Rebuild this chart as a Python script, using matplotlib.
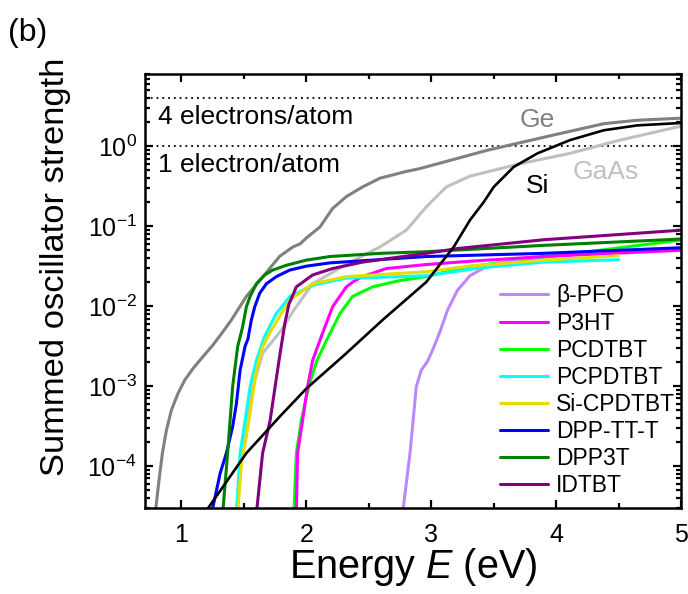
import numpy as np
import matplotlib
matplotlib.use("Agg")
import matplotlib.pyplot as plt
from matplotlib.ticker import LogLocator, MultipleLocator, NullFormatter

plt.rcParams['font.family'] = ['Liberation Sans', 'DejaVu Sans']
plt.rcParams['mathtext.fontset'] = 'custom'
plt.rcParams['mathtext.rm'] = 'Liberation Sans'
plt.rcParams['mathtext.it'] = 'Liberation Sans:italic'
plt.rcParams['axes.unicode_minus'] = False

# inorganic references
ge_x = [0.79, 0.821, 0.848, 0.88, 0.92, 0.973, 1.027, 1.093, 1.173, 1.253, 1.333, 1.40, 1.52,
        1.653, 1.787, 1.893, 1.95, 2.0, 2.11, 2.21, 2.32, 2.45, 2.59, 2.79, 2.91, 3.45, 3.98,
        4.38, 4.65, 5.0]
ge_y = [2.5e-5, 6.7e-5, 1.45e-4, 2.8e-4, 5.0e-4, 8.1e-4, 1.19e-3, 1.66e-3, 2.34e-3, 3.27e-3,
        4.8e-3, 6.7e-3, 1.32e-2, 2.34e-2, 4.2e-2, 5.5e-2, 6.0e-2, 7.1e-2, 9.8e-2, 0.166, 0.234,
        0.309, 0.398, 0.479, 0.525, 0.89, 1.38, 1.91, 2.11, 2.24]

gaas_x = [1.44, 1.49, 1.55, 1.65, 1.8, 1.9, 2.05, 2.33, 2.59, 2.80, 2.96, 3.12, 3.31, 3.71,
          4.11, 4.51, 5.0]
gaas_y = [2.5e-5, 1.74e-4, 7.4e-4, 2.57e-3, 5.0e-3, 8.9e-3, 1.9e-2, 3.4e-2, 5.5e-2, 8.9e-2,
          0.174, 0.309, 0.422, 0.603, 0.813, 1.19, 1.78]

si_x = [1.18, 1.52, 1.79, 2.0, 2.32, 2.43, 2.61, 2.96, 3.18, 3.31, 3.42, 3.50, 3.66, 3.85,
        4.11, 4.38, 4.65, 5.0]
si_y = [2.5e-5, 1.45e-4, 4.2e-4, 9.3e-4, 2.57e-3, 3.7e-3, 6.7e-3, 2.0e-2, 5.5e-2, 0.119,
        0.2, 0.309, 0.55, 0.813, 1.19, 1.58, 1.82, 1.95]

# polymers
pfo_x = [2.77, 2.83, 2.88, 2.92, 2.97, 3.01, 3.07, 3.13, 3.21, 3.31, 3.42, 3.55, 3.75, 4.0]
pfo_y = [2.5e-5, 1.45e-4, 9.8e-4, 1.58e-3, 2.04e-3, 2.8e-3, 4.8e-3, 8.9e-3, 1.58e-2, 2.4e-2,
         3.0e-2, 3.47e-2, 3.98e-2, 4.27e-2]

p3ht_x = [1.92, 1.93, 1.97, 2.01, 2.05, 2.12, 2.21, 2.32, 2.38, 2.45, 2.64, 2.96, 3.3, 3.9, 5.0]
p3ht_y = [2.5e-5, 1.45e-4, 3.7e-4, 9.8e-4, 2.09e-3, 4.17e-3, 9.8e-3, 1.74e-2, 2.04e-2, 2.34e-2,
          2.95e-2, 3.31e-2, 3.63e-2, 4.17e-2, 5.0e-2]

pcdtbt_x = [1.90, 1.92, 1.96, 2.02, 2.08, 2.16, 2.27, 2.37, 2.53, 2.75, 2.96, 3.28, 3.95, 5.0]
pcdtbt_y = [2.5e-5, 1.45e-4, 3.7e-4, 1.0e-3, 2.0e-3, 3.7e-3, 8.1e-3, 1.32e-2, 1.74e-2, 2.09e-2,
            2.34e-2, 3.09e-2, 4.17e-2, 6.7e-2]

pcpdtbt_x = [1.44, 1.47, 1.51, 1.55, 1.60, 1.66, 1.76, 1.87, 2.05, 2.32, 2.59, 2.96, 3.4, 3.9, 4.5]
pcpdtbt_y = [2.5e-5, 1.45e-4, 3.7e-4, 9.8e-4, 2.09e-3, 3.98e-3, 8.1e-3, 1.32e-2, 1.82e-2, 2.24e-2,
             2.29e-2, 2.4e-2, 3.02e-2, 3.55e-2, 3.8e-2]

sicpdtbt_x = [1.45, 1.48, 1.52, 1.56, 1.60, 1.65, 1.72, 1.79, 1.87, 2.05, 2.32, 2.96, 3.3, 3.95, 4.5]
sicpdtbt_y = [2.5e-5, 1.07e-4, 2.34e-4, 6.0e-4, 1.58e-3, 3.1e-3, 5.0e-3, 7.6e-3, 1.2e-2, 1.9e-2,
              2.34e-2, 2.69e-2, 3.16e-2, 3.8e-2, 4.27e-2]

dpptt_x = [1.24, 1.31, 1.36, 1.41, 1.44, 1.47, 1.51, 1.533, 1.56, 1.587, 1.627, 1.68, 1.76,
           1.867, 2.0, 2.187, 2.96, 3.9, 5.0]
dpptt_y = [2.5e-5, 8.1e-5, 1.45e-4, 3.1e-4, 6.0e-4, 1.58e-3, 3.16e-3, 3.9e-3, 6.7e-3, 9.8e-3,
           1.45e-2, 1.9e-2, 2.34e-2, 2.82e-2, 3.16e-2, 3.47e-2, 4.17e-2, 4.57e-2, 5.37e-2]

dpp3t_x = [1.33, 1.37, 1.41, 1.45, 1.49, 1.52, 1.55, 1.60, 1.667, 1.73, 1.84, 2.0, 2.19, 2.59,
           2.96, 3.9, 5.0]
dpp3t_y = [2.5e-5, 1.45e-4, 9.8e-4, 3.1e-3, 5.5e-3, 9.8e-3, 1.32e-2, 1.9e-2, 2.45e-2, 2.82e-2,
           3.24e-2, 3.76e-2, 4.17e-2, 4.57e-2, 4.79e-2, 5.75e-2, 6.9e-2]

idtbt_x = [1.60, 1.65, 1.71, 1.75, 1.79, 1.83, 1.86, 1.92, 2.05, 2.21, 2.45, 2.96, 3.21, 3.9, 5.0]
idtbt_y = [2.5e-5, 1.45e-4, 3.7e-4, 9.8e-4, 2.57e-3, 6.3e-3, 1.05e-2, 1.74e-2, 2.45e-2, 2.95e-2,
           3.55e-2, 4.57e-2, 5.25e-2, 6.76e-2, 8.9e-2]

polymers = [
    ('\u03b2-PFO', pfo_x, pfo_y, '#bb88ff'),
    ('P3HT', p3ht_x, p3ht_y, '#ff00ff'),
    ('PCDTBT', pcdtbt_x, pcdtbt_y, '#00ff00'),
    ('PCPDTBT', pcpdtbt_x, pcpdtbt_y, '#00ffff'),
    ('Si-CPDTBT', sicpdtbt_x, sicpdtbt_y, '#e6dd00'),
    ('DPP-TT-T', dpptt_x, dpptt_y, '#0000ff'),
    ('DPP3T', dpp3t_x, dpp3t_y, '#007f00'),
    ('IDTBT', idtbt_x, idtbt_y, '#800080'),
]

fig = plt.figure(figsize=(6.88, 5.94), dpi=100)
ax = fig.add_axes([0.211, 0.145, 0.779, 0.7305])

ax.axhline(4, color='black', ls=(0, (1, 2.2)), lw=1.3)
ax.axhline(1, color='black', ls=(0, (1, 2.2)), lw=1.3)

lkw = dict(lw=2.2, solid_joinstyle='round', solid_capstyle='round')
ax.plot(ge_x, ge_y, color='#808080', **lkw)
ax.plot(gaas_x, gaas_y, color='#c0c0c0', **lkw)

# green first so magenta sits on top at the onset
order = [2, 0, 1, 3, 4, 5, 6, 7]
handles = {}
for i in order:
    name, xs, ys, c = polymers[i]
    handles[i], = ax.plot(xs, ys, color=c, label=name, **lkw)

ax.plot(si_x, si_y, color='black', lw=1.9, solid_joinstyle='round')

ax.set_yscale('log')
ax.set_xlim(0.71, 5.0)
ax.set_ylim(3e-5, 8)

ax.xaxis.set_major_locator(MultipleLocator(1))
ax.xaxis.set_minor_locator(MultipleLocator(0.5))
ax.yaxis.set_major_locator(LogLocator(base=10, numticks=20))
ax.yaxis.set_minor_locator(LogLocator(base=10, subs=np.arange(2, 10), numticks=20))
ax.yaxis.set_minor_formatter(NullFormatter())

ax.tick_params(which='both', direction='in', top=True, right=True, width=1.6)
ax.tick_params(which='major', length=6)
ax.tick_params(which='minor', length=3.5)
ax.tick_params(axis='x', which='major', labelsize=18, pad=11)
ax.tick_params(axis='y', which='major', labelsize=18, pad=6)
for s in ax.spines.values():
    s.set_linewidth(1.8)

ax.set_xlabel('Energy $\\it{E}$ (eV)', fontsize=28.5, labelpad=-1)
ax.set_ylabel('Summed oscillator strength', fontsize=24.8)
ax.yaxis.set_label_coords(-0.138, 0.555)

ax.text(0.81, 2.3, '4 electrons/atom', fontsize=19, va='center', ha='left')
ax.text(0.81, 0.58, '1 electron/atom', fontsize=19, va='center', ha='left')
ax.text(3.85, 2.1, 'Ge', fontsize=19, color='#808080', va='center', ha='center')
ax.text(4.40, 0.47, 'GaAs', fontsize=19, color='#c0c0c0', va='center', ha='center')
ax.text(3.85, 0.32, 'Si', fontsize=19, color='black', va='center', ha='center')

ax.legend([handles[i] for i in range(8)], [p[0] for p in polymers],
          loc='upper left', bbox_to_anchor=(0.662, 0.515), frameon=False,
          fontsize=16.5, handlelength=2.1, handletextpad=0.35, labelspacing=0.18,
          borderpad=0, borderaxespad=0)

fig.text(0.012, 0.945, '(b)', fontsize=23, va='center', ha='left')

fig.savefig('out.png', dpi=100)
